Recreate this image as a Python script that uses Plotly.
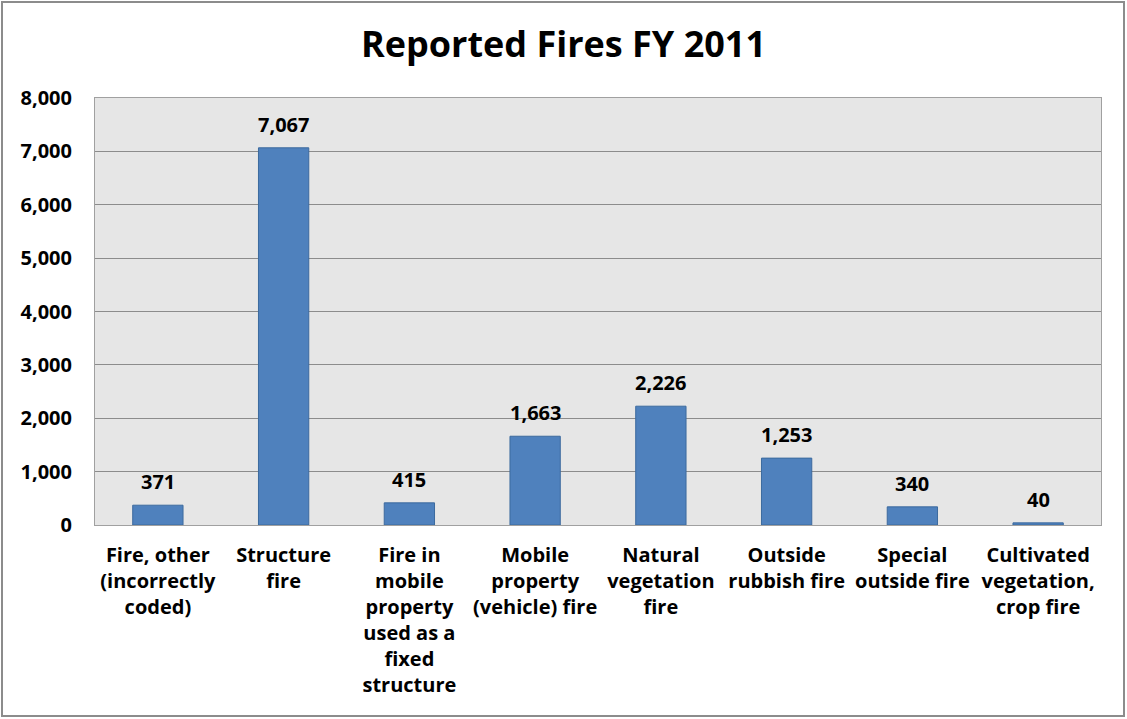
import plotly.graph_objects as go

categories = [
    "Fire, other<br>(incorrectly<br>coded)",
    "Structure<br>fire",
    "Fire in<br>mobile<br>property<br>used as a<br>fixed<br>structure",
    "Mobile<br>property<br>(vehicle) fire",
    "Natural<br>vegetation<br>fire",
    "Outside<br>rubbish fire",
    "Special<br>outside fire",
    "Cultivated<br>vegetation,<br>crop fire",
]
values = [371, 7067, 415, 1663, 2226, 1253, 340, 40]
tick_vals = [0, 1000, 2000, 3000, 4000, 5000, 6000, 7000, 8000]

FONT = "Open Sans, sans-serif"

fig = go.Figure()
fig.add_trace(go.Bar(
    x=categories, y=values, width=0.4,
    marker=dict(color="#4F81BD", line=dict(color="#3C6A9E", width=1)),
    hoverinfo="x+y",
))

for c, v in zip(categories, values):
    fig.add_annotation(x=c, y=v, text=f"{v:,}", showarrow=False,
                       yanchor="bottom", yshift=8,
                       font=dict(family=FONT, size=20, color="#000000", weight="bold"))

fig.update_layout(
    width=1127, height=719,
    margin=dict(l=95, r=26, t=98, b=194),
    paper_bgcolor="white",
    plot_bgcolor="#E6E6E6",
    title=dict(text="Reported Fires FY 2011", x=0.5, xref="container", xanchor="center",
               y=1 - 44 / 719, yref="container", yanchor="middle",
               font=dict(family=FONT, size=36, color="#000000", weight="bold")),
    showlegend=False,
    bargap=0.6,
    font=dict(family=FONT, size=20, color="#000000"),
    xaxis=dict(
        type="category", showgrid=False, showline=True, linecolor="#A0A0A0", linewidth=1,
        mirror=True, ticks="outside", ticklen=12, tickcolor="rgba(0,0,0,0)",
        tickfont=dict(family=FONT, size=20, color="#000000", weight="bold"),
        tickangle=0,
    ),
    yaxis=dict(
        range=[0, 8000], tickvals=tick_vals, tickformat=",",
        showgrid=True, gridcolor="#8C8C8C", gridwidth=1,
        showline=True, linecolor="#A0A0A0", mirror=True, zeroline=False,
        ticks="outside", ticklen=18, tickcolor="rgba(0,0,0,0)",
        tickfont=dict(family=FONT, size=20, color="#000000", weight="bold"),
    ),
)

# outer chart border
fig.add_shape(type="rect", xref="paper", yref="paper",
              x0=(2 - 95) / 1006, x1=(1124 - 95) / 1006,
              y0=(525 - 716) / 427, y1=(525 - 2) / 427,
              line=dict(color="#8C8C8C", width=2), fillcolor="rgba(0,0,0,0)", layer="below")

fig.write_html("out.html", config={"displayModeBar": False},
               post_script="document.body.style.margin='0';")
